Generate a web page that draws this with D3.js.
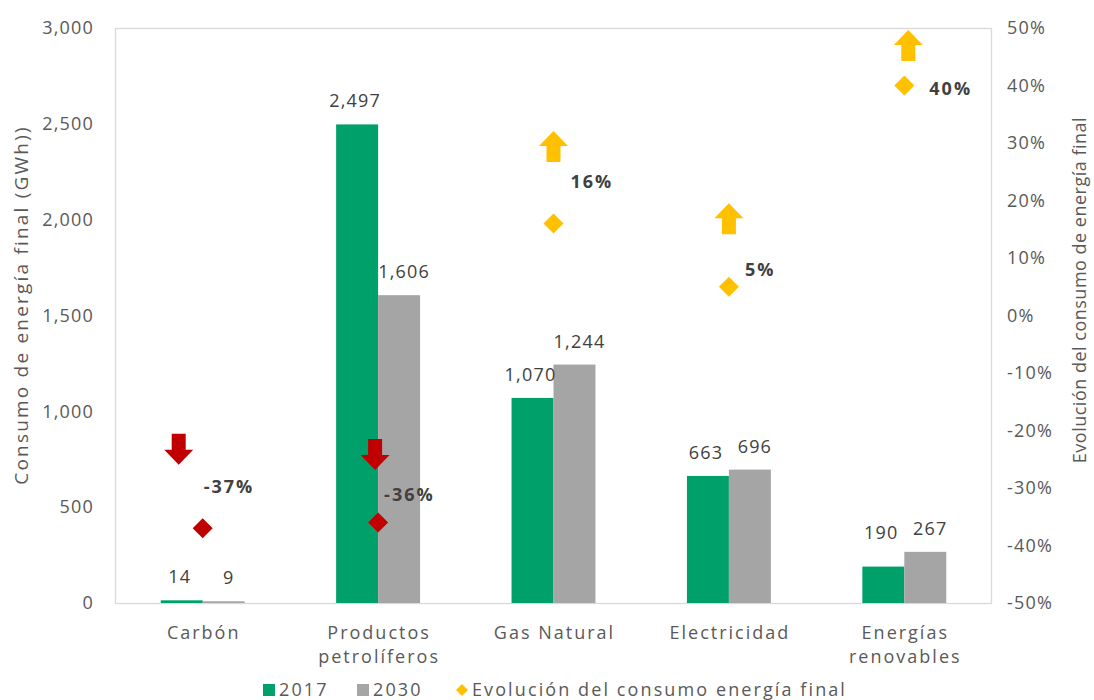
<!DOCTYPE html>
<html><head><meta charset="utf-8">
<script src="https://cdn.jsdelivr.net/npm/d3@7"></script>
<style>
html,body{margin:0;padding:0;background:#fff;}
text{font-family:"Open Sans",sans-serif;}
</style></head>
<body><svg id="c" width="1094" height="700"></svg>
<script>
const categories = ["Carbón", "Productos\npetrolíferos", "Gas Natural", "Electricidad", "Energías\nrenovables"];
const series = ["2017", "2030"];
const values2017 = [14, 2497, 1070, 663, 190];
const values2030 = [9, 1606, 1244, 696, 267];
const evolution = [-37, -36, 16, 5, 40];
const evolutionLabels = ["-37%", "-36%", "16%", "5%", "40%"];
const leftTicks = [0, 500, 1000, 1500, 2000, 2500, 3000];
const rightTicks = [-50, -40, -30, -20, -10, 0, 10, 20, 30, 40, 50];

// annotation layout (pixel offsets relative to category centre / marker)
const arrowDx = [-24, -3, 0, 0, 4];
const arrowDy = [-79, -68, -77, -68, -40];
const pctLabelDx = [1, 6, 17, 16, 25];
const pctLabelDy = [-42, -28, -42, -17, 3];
const valueLabelExtra2017 = [0, 0, 0, 0, 11];

const colors = {"2017": "#00a06b", "2030": "#a5a5a5"};
const W = 1094, H = 700;
const m = {l: 115, r: 102, t: 28, b: 97};
const svg = d3.select("#c");

const x = d3.scaleBand().domain(categories).range([m.l, W - m.r]).padding(0);
const xs = d3.scaleBand().domain(series).range([0, x.bandwidth()]).paddingInner(0).paddingOuter(1.09);
const y = d3.scaleLinear().domain([0, 3000]).range([H - m.b, m.t]);
const y2 = d3.scaleLinear().domain([-50, 50]).range([H - m.b, m.t]);

// plot border
svg.append("rect").attr("x", m.l + 0.5).attr("y", m.t + 0.5)
  .attr("width", W - m.l - m.r - 1).attr("height", H - m.t - m.b)
  .attr("fill", "none").attr("stroke", "#d9d9d9").attr("stroke-width", 1.3);

// axes
const fmt = d3.format(",");
const gl = svg.append("g").attr("transform", `translate(${m.l - 21},0)`)
  .call(d3.axisLeft(y).tickValues(leftTicks).tickFormat(fmt).tickSize(0).tickPadding(0));
const gr = svg.append("g").attr("transform", `translate(${W - m.r + 15},0)`)
  .call(d3.axisRight(y2).tickValues(rightTicks).tickFormat(d => d + "%").tickSize(0).tickPadding(0));
[gl, gr].forEach(g => {
  g.select(".domain").remove();
  g.selectAll("text").attr("fill", "#595959").style("font-size", "18px")
    .style("font-family", '"Open Sans",sans-serif').style("letter-spacing", "1.2px");
});

// axis titles
svg.append("text").attr("transform", `translate(28,305) rotate(-90)`)
  .attr("text-anchor", "middle").attr("fill", "#595959").style("font-size", "19px")
  .style("letter-spacing", "2.2px")
  .text("Consumo de energía final (GWh))");
svg.append("text").attr("transform", `translate(1086,290) rotate(-90)`)
  .attr("text-anchor", "middle").attr("fill", "#595959").style("font-size", "18px")
  .style("letter-spacing", "0.5px")
  .text("Evolución del consumo de energía final");

// bars
const rows = categories.map((c, i) => ({c, i, vals: [values2017[i], values2030[i]]}));
const groups = svg.append("g").selectAll("g").data(rows).join("g")
  .attr("transform", d => `translate(${x(d.c)},0)`);
groups.selectAll("rect").data(d => series.map((s, k) => ({s, v: d.vals[k]}))).join("rect")
  .attr("x", d => xs(d.s)).attr("width", xs.bandwidth())
  .attr("y", d => y(d.v)).attr("height", d => y(0) - y(d.v))
  .attr("fill", d => colors[d.s]);
groups.selectAll("text.val").data(d => series.map((s, k) => ({s, v: d.vals[k], i: d.i}))).join("text")
  .attr("class", "val")
  .attr("x", d => xs(d.s) + xs.bandwidth() / 2 + (d.s === "2030" ? 5 : -2))
  .attr("y", d => y(d.v) - 17 - (d.s === "2017" ? valueLabelExtra2017[d.i] : 0))
  .attr("text-anchor", "middle").attr("fill", "#404040").style("font-size", "18px")
  .style("letter-spacing", "1.2px")
  .text(d => fmt(d.v));

// category labels
svg.append("g").selectAll("text").data(categories).join("text")
  .attr("x", d => x(d) + x.bandwidth() / 2).attr("y", 639)
  .attr("text-anchor", "middle").attr("fill", "#595959").style("font-size", "18px")
  .style("letter-spacing", "2px")
  .each(function (d) {
    const lines = d.split("\n");
    d3.select(this).selectAll("tspan").data(lines).join("tspan")
      .attr("x", x(d) + x.bandwidth() / 2 + 1).attr("dy", (l, j) => j ? 24 : 0).text(l => l);
  });

// evolution markers
const cx = i => x(categories[i]) + x.bandwidth() / 2;
const mcol = v => v < 0 ? "#c00000" : "#ffc000";
svg.append("g").selectAll("path").data(evolution).join("path")
  .attr("d", d3.symbol().type(d3.symbolSquare).size(200))
  .attr("transform", (d, i) => `translate(${cx(i)},${y2(d)}) rotate(45)`)
  .attr("fill", d => mcol(d));

// block arrows
function arrowPath(up) {
  const h = 31, hw = 14.5, sw = 7, hh = 15;
  const p = up
    ? [[0, -h / 2], [hw, -h / 2 + hh], [sw, -h / 2 + hh], [sw, h / 2], [-sw, h / 2], [-sw, -h / 2 + hh], [-hw, -h / 2 + hh]]
    : [[0, h / 2], [hw, h / 2 - hh], [sw, h / 2 - hh], [sw, -h / 2], [-sw, -h / 2], [-sw, h / 2 - hh], [-hw, h / 2 - hh]];
  return "M" + p.map(q => q.join(",")).join("L") + "Z";
}
svg.append("g").selectAll("path").data(evolution).join("path")
  .attr("d", d => arrowPath(d >= 0))
  .attr("transform", (d, i) => `translate(${cx(i) + arrowDx[i]},${y2(d) + arrowDy[i]})`)
  .attr("fill", d => mcol(d));

// percentage labels
svg.append("g").selectAll("text").data(evolution).join("text")
  .attr("x", (d, i) => cx(i) + pctLabelDx[i])
  .attr("y", (d, i) => y2(d) + pctLabelDy[i]).attr("dy", "0.35em")
  .attr("fill", "#404040").style("font-size", "18px").style("font-weight", "bold")
  .style("letter-spacing", "2px")
  .text((d, i) => evolutionLabels[i]);

// legend
const lg = svg.append("g").attr("transform", "translate(0,690)");
const legendItems = [
  {label: "2017", color: colors["2017"], type: "sq", x: 263},
  {label: "2030", color: colors["2030"], type: "sq", x: 357},
  {label: "Evolución del consumo energía final", color: "#ffc000", type: "dia", x: 456}
];
legendItems.forEach(it => {
  if (it.type === "sq") {
    lg.append("rect").attr("x", it.x).attr("y", -6).attr("width", 12).attr("height", 12).attr("fill", it.color);
  } else {
    lg.append("path").attr("d", d3.symbol().type(d3.symbolSquare).size(72)())
      .attr("transform", `translate(${it.x + 6},0) rotate(45)`).attr("fill", it.color);
  }
  lg.append("text").attr("x", it.x + 16).attr("y", 0).attr("dy", "0.35em")
    .attr("fill", "#595959").style("font-size", "18px").style("letter-spacing", "2.1px").text(it.label);
});
</script></body></html>
